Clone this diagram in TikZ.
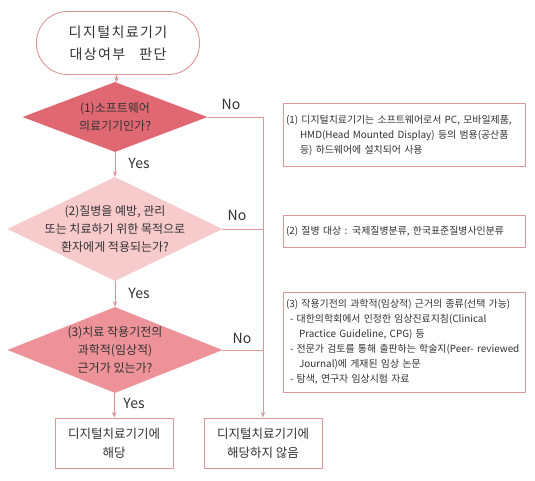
\documentclass[tikz,border=0pt]{standalone}
\usepackage{fontspec}
\setmainfont{Noto Sans CJK KR}
\usetikzlibrary{arrows.meta, positioning, shapes.geometric}
\definecolor{DecDark}{RGB}{224, 104, 114}
\definecolor{DecLight}{RGB}{247, 202, 204}
\definecolor{DecMid}{RGB}{236, 146, 152}
\definecolor{LineRose}{RGB}{222, 150, 154}
\definecolor{TextGray}{RGB}{50, 50, 50}
\tikzset{every node/.style={text=TextGray}, every path/.style={line cap=round, line join=round}, >={Stealth[length=2mm, width=1.6mm]}}
\tikzset{
    startbox/.style={draw=LineRose, line width=0.9pt, rounded corners=31pt, minimum width=163pt, minimum height=63pt, align=center, font=\fontsize{14}{22}\selectfont\addfontfeature{LetterSpace=10}},
    decision/.style={diamond, draw=none, inner sep=0pt},
    dectext/.style={align=center, inner sep=0pt, font=\fontsize{12}{18}\selectfont},
    endbox/.style={draw=LineRose, line width=0.9pt, minimum width=118pt, minimum height=50pt, align=center, font=\fontsize{12.5}{19}\selectfont},
    notebox/.style={draw=LineRose, line width=0.9pt, inner xsep=3pt, text width=236pt, align=left, font=\fontsize{9.9}{15}\selectfont},
    flow/.style={draw=LineRose, line width=0.9pt},
    lbl/.style={font=\fontsize{14}{16}\selectfont}
}

\begin{document}
\begin{tikzpicture}[x=1pt, y=-1pt]
    \useasboundingbox [fill=white] (0,0) rectangle (535,480);

    % flow chart
    \node [startbox] (start) at (118,43) {디지털치료기기\\대상여부\quad 판단};
    \node [decision, fill=DecDark, minimum width=185pt, minimum height=70pt] (q1) at (115,117) {};
    \node [dectext] (q1txt) at (q1) {(1)소프트웨어\\의료기기인가?};
    \node [decision, fill=DecLight, minimum width=215pt, minimum height=104pt] (q2) at (115,229) {};
    \node [dectext] (q2txt) at (q2) {(2)질병을 예방, 관리\\또는 치료하기 위한 목적으로\\환자에게 적용되는가?};
    \node [decision, fill=DecMid, minimum width=215pt, minimum height=86pt] (q3) at (115,350) {};
    \node [dectext] (q3txt) at (q3) {(3)치료 작용기전의\\과학적(임상적)\\근거가 있는가?};
    \node [endbox] (yes) at (114,443) {디지털치료기기에\\해당};
    \node [endbox] (no) at (263,443) {디지털치료기기에\\해당하지 않음};

    % notes
    \node [notebox, minimum height=63pt] (note1) at (404,135) {(1) 디지털치료기기는 소프트웨어로서 PC, 모바일제품,\\\hspace*{14pt}HMD(Head Mounted Display) 등의 범용(공산품\\\hspace*{14pt}등) 하드웨어에 설치되어 사용};
    \node [notebox, minimum height=32pt] (note2) at (404,231) {(2) 질병 대상 : 국제질병분류, 한국표준질병사인분류};
    \node [notebox, minimum height=100pt] (note3) at (404,342) {(3) 작용기전의 과학적(임상적) 근거의 종류(선택 가능)\\\hspace*{4pt}- 대한의학회에서 인정한 임상진료지침(Clinical\\\hspace*{13pt}Practice Guideline, CPG) 등\\\hspace*{4pt}\mbox{- 전문가 검토를 통해 출판하는 학술지(Peer- reviewed}\\\hspace*{13pt}Journal)에 게재된 임상 논문\\\hspace*{4pt}- 탐색, 연구자 임상시험 자료};

    % connectors
    \draw [flow, ->] (start) -- (q1);
    \draw [flow, ->] (q1) -- (q2);
    \draw [flow, ->] (q2) -- (q3);
    \draw [flow, ->] (q3) -- (yes);
    \draw [flow, ->] (q1.east) -| (no.north);
    \draw [flow] (q2.east) -- (q2.east -| no.north);
    \draw [flow] (q3.east) -- (q3.east -| no.north);

    % labels
    \node [lbl] (yes1) at (139,163) {Yes};
    \node [lbl] (yes2) at (139,293) {Yes};
    \node [lbl] (yes3) at (134,403) {Yes};
    \node [lbl] (no1) at (231,104) {No};
    \node [lbl] (no2) at (237,215) {No};
    \node [lbl] (no3) at (242,338) {No};
\end{tikzpicture}
\end{document}
